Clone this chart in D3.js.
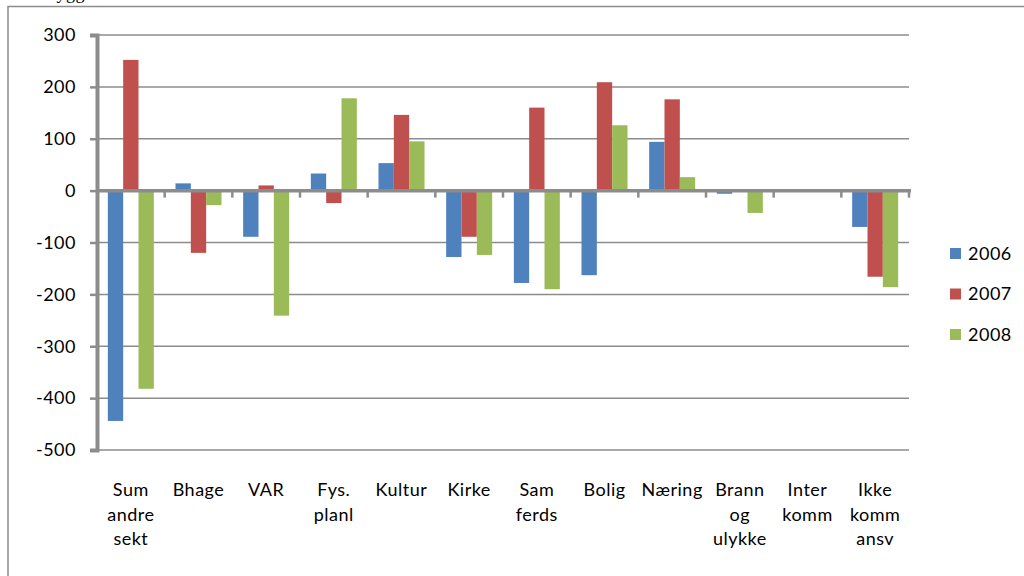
<!DOCTYPE html>
<meta charset="utf-8">
<style>

body {
    margin: 0;
    background: #fff;
}

text {
    font-family: Lato, "Open Sans", sans-serif;
    letter-spacing: 0.5px;
    fill: #000;
}

</style>
<body>
<script src="https://cdn.jsdelivr.net/npm/d3@7"></script>
<script>

// data
var categories = [["Sum", "andre", "sekt"], ["Bhage"], ["VAR"], ["Fys.", "planl"], ["Kultur"], ["Kirke"],
    ["Sam", "ferds"], ["Bolig"], ["Næring"], ["Brann", "og", "ulykke"], ["Inter", "komm"], ["Ikke", "komm", "ansv"]];
var years = ["2006", "2007", "2008"];
var v2006 = [-444, 14, -89, 33, 53, -128, -178, -163, 94, -6, 0, -70];
var v2007 = [252, -120, 10, -24, 146, -89, 160, 209, 176, 0, 0, -166];
var v2008 = [-382, -28, -241, 178, 95, -124, -190, 126, 26, -43, 0, -186];
var yTicks = [-500, -400, -300, -200, -100, 0, 100, 200, 300];
var colors = ["#4F81BD", "#C0504D", "#9BBB59"];

var series = [v2006, v2007, v2008];
var data = categories.map(function(c, i) {
    return {key: i, label: c, values: series.map(function(s) { return s[i]; })};
});

var W = 1024, H = 576;
var plotLeft = 97, plotRight = 909, plotTop = 35, plotBottom = 450;

var svg = d3.select("body").append("svg")
    .attr("width", W)
    .attr("height", H);

// outer frame (chart area border, cut at the right/bottom)
svg.append("path")
    .attr("d", "M8,580 V6.5 H1030")
    .attr("fill", "none")
    .attr("stroke", "#8c8c8c")
    .attr("stroke-width", 1.5);

// cut-off title above the frame
svg.append("text")
    .attr("x", 44)
    .attr("y", -1)
    .style("font-family", "'Liberation Serif', serif")
    .style("font-size", "18px")
    .text("Bygg");

var x0 = d3.scaleBand()
    .domain(data.map(function(d) { return d.key; }))
    .range([plotLeft, plotRight])
    .paddingInner(0.32)
    .paddingOuter(0.16);

var x1 = d3.scaleBand()
    .domain([0, 1, 2])
    .range([0, x0.bandwidth()]);

var y = d3.scaleLinear()
    .domain([-500, 300])
    .range([plotBottom, plotTop]);

// gridlines
svg.append("g")
    .selectAll("line")
    .data(yTicks.filter(function(t) { return t !== 0; }))
    .enter().append("line")
    .attr("x1", plotLeft)
    .attr("x2", plotRight)
    .attr("y1", function(d) { return y(d); })
    .attr("y2", function(d) { return y(d); })
    .attr("stroke", "#8c8c8c")
    .attr("stroke-width", 1.5);

// bars
var group = svg.append("g")
    .selectAll("g")
    .data(data)
    .enter().append("g")
    .attr("transform", function(d) { return "translate(" + x0(d.key) + ",0)"; });

group.selectAll("rect")
    .data(function(d) { return d.values; })
    .enter().append("rect")
    .attr("x", function(d, i) { return x1(i); })
    .attr("width", x1.bandwidth())
    .attr("y", function(d) { return Math.min(y(d), y(0)); })
    .attr("height", function(d) { return Math.abs(y(d) - y(0)); })
    .attr("fill", function(d, i) { return colors[i]; });

// y axis (plain hyphen for negatives, like the original)
var yAxis = d3.axisLeft(y)
    .tickValues(yTicks)
    .tickSize(7)
    .tickPadding(14)
    .tickFormat(function(d) { return String(d); });

var gy = svg.append("g")
    .attr("transform", "translate(" + plotLeft + ",0)")
    .call(yAxis);

gy.select(".domain")
    .attr("stroke", "#8c8c8c")
    .attr("stroke-width", 4);
gy.selectAll(".tick line")
    .attr("stroke", "#8c8c8c")
    .attr("stroke-width", 2.5);
gy.selectAll(".tick text")
    .style("font-size", "18px")
    .style("font-family", "Lato, 'Open Sans', sans-serif");

// zero axis with category ticks at the boundaries
var bounds = d3.range(categories.length + 1).map(function(i) {
    return plotLeft + i * x0.step();
});

svg.append("line")
    .attr("x1", plotLeft)
    .attr("x2", plotRight + 2)
    .attr("y1", y(0))
    .attr("y2", y(0))
    .attr("stroke", "#8c8c8c")
    .attr("stroke-width", 3.5);

svg.append("g")
    .selectAll("line")
    .data(bounds.slice(1))
    .enter().append("line")
    .attr("x1", function(d) { return d; })
    .attr("x2", function(d) { return d; })
    .attr("y1", y(0))
    .attr("y2", y(0) + 7)
    .attr("stroke", "#8c8c8c")
    .attr("stroke-width", 2.5);

// category labels
var labels = svg.append("g")
    .selectAll("text")
    .data(data)
    .enter().append("text")
    .attr("text-anchor", "middle")
    .attr("x", function(d) { return x0(d.key) + x0.bandwidth() / 2; })
    .attr("y", 496)
    .style("font-size", "18px");

labels.selectAll("tspan")
    .data(function(d) { return d.label; })
    .enter().append("tspan")
    .attr("x", function() { return this.parentNode.getAttribute("x"); })
    .attr("dy", function(d, i) { return i === 0 ? 0 : 24.5; })
    .text(function(d) { return d; });

// legend
var legend = svg.append("g")
    .selectAll("g")
    .data(years)
    .enter().append("g")
    .attr("transform", function(d, i) { return "translate(950," + (248 + i * 40.5) + ")"; });

legend.append("rect")
    .attr("width", 11)
    .attr("height", 11)
    .attr("fill", function(d, i) { return colors[i]; });

legend.append("text")
    .attr("x", 18)
    .attr("y", 5.5)
    .attr("dy", "0.35em")
    .style("font-size", "18px")
    .text(function(d) { return d; });

</script>
</body>
</html>
